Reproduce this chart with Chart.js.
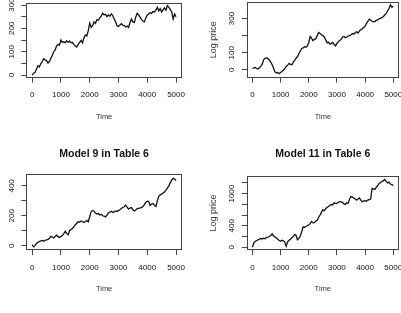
<!DOCTYPE html>
<html><head><meta charset="utf-8">
<script src="https://cdn.jsdelivr.net/npm/chart.js@4.4.1/dist/chart.umd.min.js"></script>
<style>
html,body{margin:0;padding:0;width:401px;height:313px;overflow:hidden;background:#fff;}
canvas{position:absolute;left:0;top:0;}
</style></head><body>
<canvas id="c1" width="410" height="313"></canvas>
<canvas id="c2" width="410" height="313"></canvas>
<canvas id="c3" width="410" height="313"></canvas>
<canvas id="c4" width="410" height="313"></canvas>
<script>
const time = [
 0,50,100,150,200,250,300,350,400,450,
 500,550,600,650,700,750,800,850,900,950,
 1000,1050,1100,1150,1200,1250,1300,1350,1400,1450,
 1500,1550,1600,1650,1700,1750,1800,1850,1900,1950,
 2000,2050,2100,2150,2200,2250,2300,2350,2400,2450,
 2500,2550,2600,2650,2700,2750,2800,2850,2900,2950,
 3000,3050,3100,3150,3200,3250,3300,3350,3400,3450,
 3500,3550,3600,3650,3700,3750,3800,3850,3900,3950,
 4000,4050,4100,4150,4200,4250,4300,4350,4400,4450,
 4500,4550,4600,4650,4700,4750,4800,4850,4900,4950,
 5000];

const seriesTopLeft = [
 0,8,12,25,40,35,48,58,70,65,
 62,52,58,72,85,100,108,125,132,128,
 150,140,143,138,147,140,146,138,140,130,
 124,120,132,140,148,138,160,172,168,190,
 222,205,212,228,222,238,235,245,252,265,
 258,260,250,258,252,262,255,240,228,210,
 208,215,220,214,212,206,210,204,225,240,
 228,226,248,265,258,248,238,232,228,245,
 258,262,268,264,272,270,278,290,275,285,
 270,280,288,278,298,290,282,270,240,262,
 250];

const seriesTopRight = [
 8,12,14,8,5,12,22,35,60,68,
 70,66,58,45,30,10,-12,-18,-15,-22,
 -15,-8,-2,8,20,28,38,32,30,45,
 55,68,78,95,110,125,128,135,132,140,
 160,195,185,170,178,182,200,218,212,205,
 200,192,175,158,162,150,155,160,148,140,
 155,165,172,178,192,195,188,192,198,200,
 205,212,208,218,222,215,228,235,240,248,
 255,272,285,296,290,284,280,282,290,292,
 298,302,305,312,322,330,345,360,380,365,
 372];

const seriesModel9 = [
 5,-8,0,15,22,28,32,35,30,36,
 38,42,50,62,58,52,62,70,60,55,
 62,68,80,96,82,72,100,108,115,128,
 140,150,160,158,165,160,155,162,168,160,
 195,228,235,230,218,212,215,205,210,200,
 198,192,205,218,225,230,222,226,232,228,
 236,240,248,255,260,272,258,245,252,255,
 240,232,238,248,250,252,255,262,275,290,
 298,295,270,278,282,268,262,300,330,340,
 345,352,360,372,385,400,420,440,450,445,
 436];

const seriesModel11 = [
 0,80,110,120,140,150,165,155,170,160,
 185,190,200,220,250,210,190,175,150,125,
 110,130,120,95,20,100,130,150,175,200,
 240,220,140,165,210,290,380,370,390,400,
 420,440,480,455,460,490,500,560,600,650,
 700,680,720,740,760,780,800,790,830,820,
 820,840,850,845,840,810,800,830,820,900,
 945,935,920,900,880,900,920,880,850,860,
 870,860,880,890,900,1100,1090,1080,1120,1150,
 1190,1210,1230,1240,1265,1230,1200,1215,1180,1170,
 1150];

const xTicks = [0,1000,2000,3000,4000,5000];
const yTicksTopLeft = [0,50,100,150,200,250,300];
const yLabelsTopLeft = [0,100,200,300];
const yTicksTopRight = [0,100,200,300];
const yLabelsTopRight = [0,100,300];
const yTicksModel9 = [0,100,200,300,400];
const yLabelsModel9 = [0,200,400];
const yTicksModel11 = [0,200,400,600,800,1000,1200];
const yLabelsModel11 = [0,400,1000];

const titleModel9 = 'Model 9 in Table 6';
const titleModel11 = 'Model 11 in Table 6';
const xTitle = 'Time';
const yTitle = 'Log price';

const FONT = "'Liberation Sans', Arial, Helvetica, sans-serif";
const AX = '#444';

const rPlugin = {
  id: 'rstyle',
  afterDraw(chart, args, o) {
    const {ctx, chartArea: a} = chart;
    ctx.save();
    ctx.strokeStyle = AX; ctx.lineWidth = 1;
    const l = Math.round(a.left) + 0.5, t = Math.round(a.top) + 0.5;
    const r = Math.round(a.right) - 0.5, b = Math.round(a.bottom) - 0.5;
    ctx.strokeRect(l, t, r - l, b - t);
    const ys = chart.scales.y;
    ctx.fillStyle = '#111';
    ctx.font = '8px ' + FONT;
    ctx.textAlign = 'center'; ctx.textBaseline = 'middle';
    (o.labels || []).forEach(v => {
      const py = ys.getPixelForValue(v);
      ctx.save();
      ctx.translate(a.left - 15, py);
      ctx.rotate(-Math.PI / 2);
      ctx.fillText(String(v), 0, 0);
      ctx.restore();
    });
    ctx.restore();
  }
};

function makeChart(id, values, yTicks, yLabels, yMin, yMax, cfg) {
  new Chart(document.getElementById(id), {
    type: 'line',
    data: { datasets: [{
      data: time.map((t, i) => ({x: t, y: values[i]})),
      borderColor: '#111', borderWidth: 1.3, pointRadius: 0, tension: 0, fill: false
    }]},
    options: {
      responsive: false, animation: false, devicePixelRatio: 1,
      layout: { padding: cfg.padding },
      plugins: {
        legend: { display: false }, tooltip: { enabled: false },
        title: cfg.title ? {
          display: true, text: cfg.title, fullSize: false, color: '#111',
          font: { family: FONT, size: 10.5, weight: 'bold' },
          padding: { top: 0, bottom: cfg.titleGap }
        } : { display: false },
        rstyle: { labels: yLabels }
      },
      scales: {
        x: {
          type: 'linear', min: -200, max: 5200,
          afterBuildTicks: s => { s.ticks = xTicks.map(v => ({value: v})); },
          afterFit: s => { s.height = 43.8; },
          grid: { drawOnChartArea: false, drawTicks: true, tickLength: 5, color: AX, tickColor: AX },
          border: { display: false },
          ticks: { autoSkip: false, maxRotation: 0, minRotation: 0, padding: 7.5, color: '#111',
                   font: { family: FONT, size: 8 }, callback: v => String(v) },
          title: { display: true, text: xTitle, color: '#333', font: { family: FONT, size: 7.5 }, padding: 0 }
        },
        y: {
          type: 'linear', min: yMin, max: yMax,
          afterBuildTicks: s => { s.ticks = yTicks.map(v => ({value: v})); },
          afterFit: s => { s.width = cfg.wy; },
          grid: { drawOnChartArea: false, drawTicks: true, tickLength: 5, color: AX, tickColor: AX },
          border: { display: false },
          ticks: { display: false },
          title: { display: cfg.yTitle, text: yTitle, color: '#333', font: { family: FONT, size: 9 }, padding: 0 }
        }
      }
    },
    plugins: [rPlugin]
  });
}

// top-left
makeChart('c1', seriesTopLeft, yTicksTopLeft, yLabelsTopLeft, -11, 311, {
  padding: { left: 6.4, right: 410 - 181.8, top: 2.5, bottom: 313 - (77.6 + 43.8) },
  wy: 20, yTitle: false
});
// top-right
makeChart('c2', seriesTopRight, yTicksTopRight, yLabelsTopRight, -45, 398, {
  padding: { left: 208.1, right: 410 - 402.2, top: 1.7, bottom: 313 - (77.6 + 43.8) },
  wy: 38.7, yTitle: true
});
// bottom-left
makeChart('c3', seriesModel9, yTicksModel9, yLabelsModel9, -29, 478, {
  padding: { left: 6.4, right: 410 - 181.8, top: 147.7, bottom: 313 - (250 + 43.8) },
  wy: 20, yTitle: false, title: titleModel9, titleGap: 13.9
});
// bottom-right
makeChart('c4', seriesModel11, yTicksModel11, yLabelsModel11, -52, 1330, {
  padding: { left: 208.1, right: 410 - 402.2, top: 147.7, bottom: 313 - (250 + 43.8) },
  wy: 38.7, yTitle: true, title: titleModel11, titleGap: 15.7
});
</script>
</body></html>
